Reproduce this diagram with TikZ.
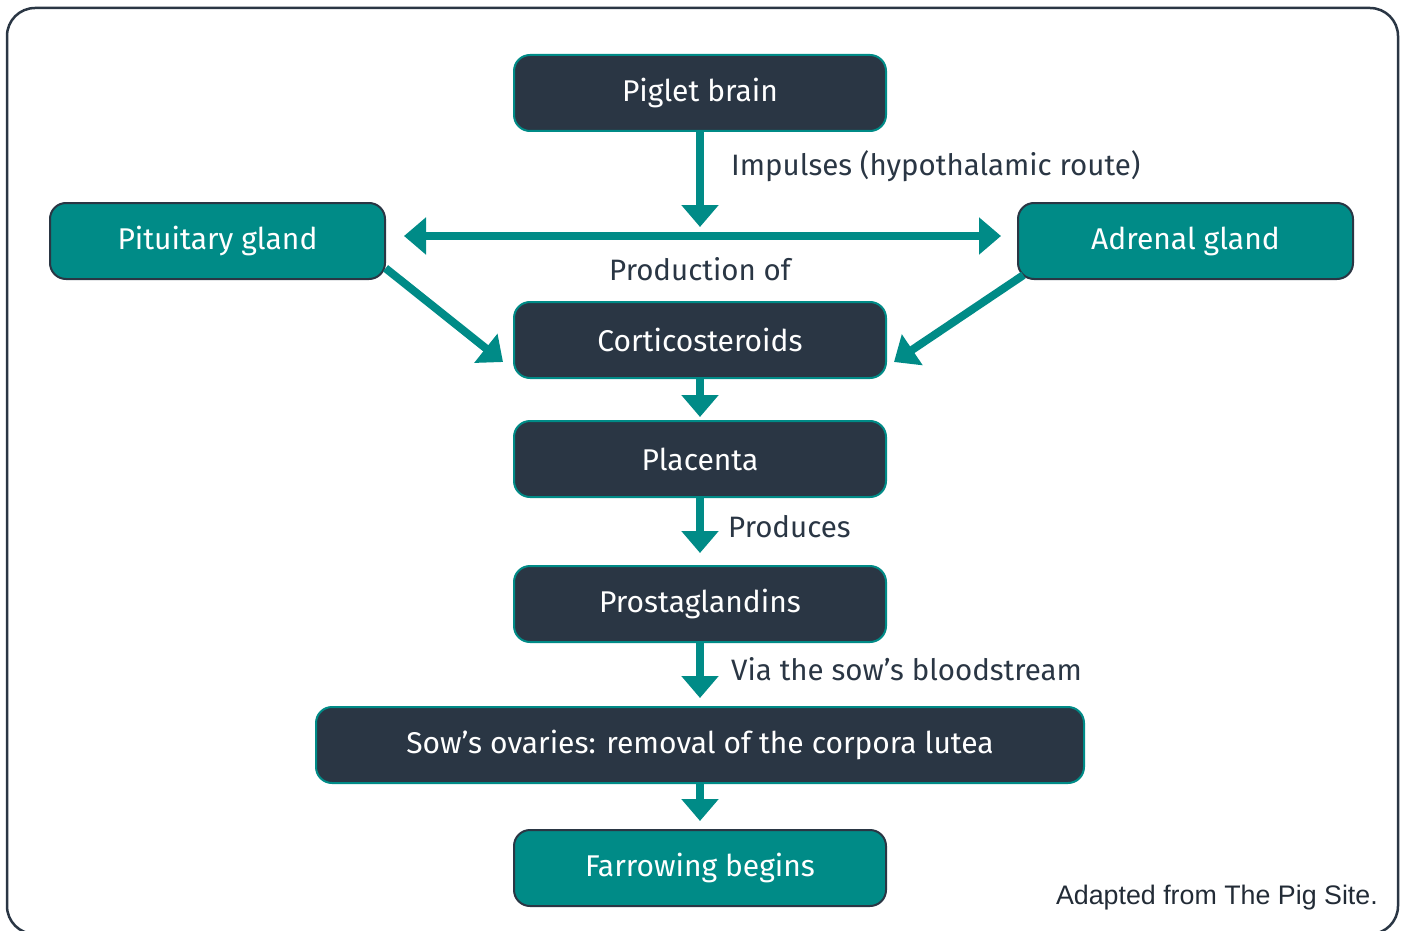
\documentclass[tikz,border=0pt]{standalone}
\usepackage{fontspec}
\setmainfont{Fira Sans}
\newfontfamily\credfont{Liberation Sans}
\usetikzlibrary{arrows.meta,calc}
\definecolor{navyc}{HTML}{2A3644}
\definecolor{tealc}{HTML}{008B87}
\begin{document}
\begin{tikzpicture}[x=1pt,y=-1pt,
  box/.style={rounded corners=16pt, minimum height=76pt, inner sep=0pt, line width=2pt,
    text=white, font=\fontsize{30}{34}\selectfont},
  darkbox/.style={box, fill=navyc, draw=tealc},
  tealbox/.style={box, fill=tealc, draw=navyc},
  conn/.style={draw=tealc, line width=8pt, -{Triangle[width=36pt,length=22pt]}},
  dconn/.style={draw=tealc, line width=8pt, {Triangle[width=36pt,length=22pt]}-{Triangle[width=36pt,length=22pt]}},
  lbl/.style={text=navyc, font=\fontsize{29.5}{34}\selectfont, inner sep=0pt}]
\useasboundingbox (0,0) rectangle (1405,931);
\draw[navyc, line width=2.5pt, rounded corners=28pt] (7,8) rectangle (1398,934);

\node[darkbox, minimum width=372pt] (brain) at (700,93) {Piglet brain};
\node[tealbox, minimum width=335pt] (pit) at (217.5,241) {Pituitary gland};
\node[tealbox, minimum width=335pt] (adr) at (1185.5,241) {Adrenal gland};
\node[darkbox, minimum width=372pt] (cort) at (700,340) {Corticosteroids};
\node[darkbox, minimum width=372pt] (plac) at (700,459) {Placenta};
\node[darkbox, minimum width=372pt] (prost) at (700,604) {Prostaglandins};
\node[darkbox, minimum width=768pt] (ovar) at (700,745) {Sow’s ovaries: removal of the corpora lutea};
\node[tealbox, minimum width=372pt] (farrow) at (700,868) {Farrowing begins};

\coordinate (hmid) at (700,227);
\coordinate (hL) at (404,236);
\coordinate (hR) at (1001,236);

\draw[conn] (brain.south) -- (hmid);
\draw[dconn] (hL) -- (hR);
\draw[conn, shorten <=2pt] ($(pit.east)+(-2,26)$) -- ($(cort.west)+(-10,22)$);
\draw[conn, shorten <=2pt] ($(adr.west)+(8,33)$) -- ($(cort.east)+(7,22)$);
\draw[conn, shorten >=3pt] (cort.south) -- (plac.north);
\draw[conn, shorten >=12pt] (plac.south) -- (prost.north);
\draw[conn, shorten >=8pt] (prost.south) -- (ovar.north);
\draw[conn, shorten >=8pt] (ovar.south) -- (farrow.north);

\node[lbl, anchor=west] (limp) at (731,166) {Impulses (hypothalamic route)};
\node[lbl] (lprod) at (700,269) {Production of};
\node[lbl, anchor=west] (lpr) at (728,527) {Produces};
\node[lbl, anchor=west] (lvia) at (731,669) {Via the sow’s bloodstream};
\node[text=navyc!80!black, inner sep=0pt, anchor=east, font=\credfont\fontsize{26.8}{30}\selectfont] (credit) at (1378,898) {Adapted from The Pig Site.};
\end{tikzpicture}
\end{document}
